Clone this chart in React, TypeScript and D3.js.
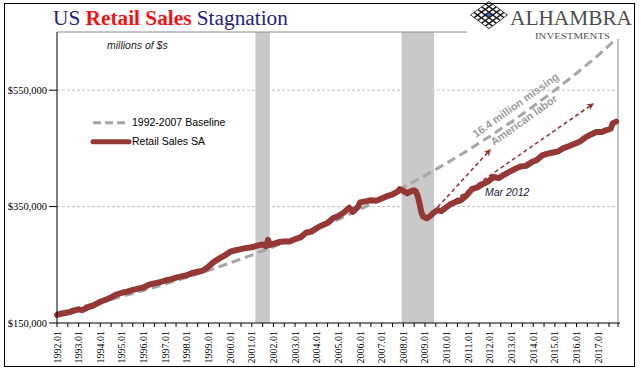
import React from "react";
import * as d3 from "d3";

// ---------- data ----------
const months: string[] = d3
  .range(1992, 2018)
  .flatMap((yr) => d3.range(1, 13).map((m) => `${yr}.${String(m).padStart(2, "0")}`));
const yearLabels = months.filter((m) => m.endsWith(".01"));
const tickMonths = months.filter((_, i) => i % 6 === 0);

// Retail Sales SA, $ thousands of millions
const retailDates = [
  "1992.01", "1992.04", "1992.07", "1992.10", "1993.01", "1993.03", "1993.06", "1993.09",
  "1994.01", "1994.04", "1994.07", "1994.10", "1995.01", "1995.04", "1995.07", "1995.10",
  "1996.01", "1996.04", "1996.07", "1996.10", "1997.01", "1997.04", "1997.07", "1997.10",
  "1998.01", "1998.04", "1998.07", "1998.10", "1999.01", "1999.04", "1999.07", "1999.10",
  "2000.01", "2000.04", "2000.07", "2000.10", "2001.01", "2001.04", "2001.07", "2001.09",
  "2001.10", "2001.11", "2002.01", "2002.04", "2002.07", "2002.10", "2003.01", "2003.04",
  "2003.07", "2003.10", "2004.01", "2004.04", "2004.07", "2004.10", "2005.01", "2005.04",
  "2005.07", "2005.09", "2005.12", "2006.01", "2006.04", "2006.07", "2006.10", "2007.01",
  "2007.04", "2007.07", "2007.10", "2007.11", "2008.01", "2008.03", "2008.05", "2008.07",
  "2008.08", "2008.09", "2008.10", "2008.11", "2008.12", "2009.02", "2009.04", "2009.06",
  "2009.08", "2009.10", "2009.12", "2010.03", "2010.06", "2010.09", "2010.12", "2011.03",
  "2011.06", "2011.09", "2011.12", "2012.03", "2012.06", "2012.09", "2012.12", "2013.03",
  "2013.06", "2013.09", "2013.12", "2014.03", "2014.06", "2014.09", "2014.12", "2015.03",
  "2015.06", "2015.09", "2015.12", "2016.03", "2016.06", "2016.09", "2016.12", "2017.03",
  "2017.06", "2017.08", "2017.09", "2017.11",
];
const retailValues = [
  164, 166, 168, 171, 173.5, 172, 177, 180,
  186.5, 190, 194, 199, 202, 204, 207, 209,
  211, 216, 218, 220, 223, 225, 228, 230,
  232, 236, 238, 240, 247, 255, 261, 266,
  272.5, 275, 277, 279, 280, 283, 285, 282,
  293, 284, 286, 289, 290, 290, 294, 297,
  305, 307, 313, 318, 322, 330, 334, 340,
  348, 341, 350, 357, 359, 361, 360, 364,
  368, 371, 376, 380, 377, 373, 376, 378,
  376, 368, 355, 340, 333, 330, 334, 340,
  344, 342, 347, 354, 358, 361, 369, 380,
  383, 389, 393, 401, 399, 405, 410, 415,
  419, 420, 426, 430, 438, 441, 443, 445,
  451, 454, 458, 462, 469, 474, 478, 478,
  482, 484, 493, 496,
];

// 1992-2007 Baseline trend
const baselineDates = [
  "1992.01", "1993.01", "1994.01", "1995.01", "1996.01", "1997.01", "1998.01", "1999.01",
  "2000.01", "2001.01", "2002.01", "2003.01", "2004.01", "2005.01", "2006.01", "2007.01",
  "2008.01", "2009.01", "2010.01", "2011.01", "2012.01", "2013.01", "2014.01", "2015.01",
  "2016.01", "2017.01", "2017.12",
];
const baselineValues = [
  167.5, 176.4, 185.8, 195.6, 206, 216.9, 228.4, 240.5,
  253.3, 266.7, 280.9, 295.8, 311.5, 328, 345.4, 363.7,
  383, 403.3, 424.7, 447.2, 470.9, 495.9, 522.2, 549.9,
  579.1, 609.8, 641,
];

const recessionStarts = ["2001.03", "2007.12"];
const recessionEnds = ["2001.11", "2009.06"];

const yTickValues = [150000, 350000, 550000];
const gridValues = [350000, 550000];

// annotation arrows: [startDate, startValue, endDate, endValue]
const arrowStartDates = ["2009.08", "2009.11"];
const arrowStartValues = [349000, 347500];
const arrowEndDates = ["2012.01", "2016.10"];
const arrowEndValues = [447000, 526000];

// ---------- layout ----------
const W = 641;
const H = 375;
const L = 57;
const R = 618;
const T = 32;
const B = 323;

const RED = "#953735";
const GRAY = "#a6a6a6";
const NAVY = "#1f1f7f";

function Logo() {
  const cx = 489, cy = 15, hw = 19, hh = 14;
  const P = (s: number, t: number) => [cx - hw + hw * (s + t), cy + hh * (t - s)];
  const N = 5;
  const cells: { d: string; fill: string }[] = [];
  d3.range(N).forEach((i) =>
    d3.range(N).forEach((j) => {
      const ins = 0.16;
      const s0 = (i + ins) / N, s1 = (i + 1 - ins) / N;
      const t0 = (j + ins) / N, t1 = (j + 1 - ins) / N;
      const pts = [P(s0, t0), P(s1, t0), P(s1, t1), P(s0, t1)];
      cells.push({
        d: "M" + pts.map((p) => p.join(",")).join("L") + "Z",
        fill: i === 2 && j === 2 ? "#3b6fc6" : "#ffffff",
      });
    })
  );
  const outer = [P(0, 0), P(1, 0), P(1, 1), P(0, 1)];
  return (
    <g>
      <path d={"M" + outer.map((p) => p.join(",")).join("L") + "Z"} fill="#1a1a1a" />
      {cells.map((c, k) => (
        <path key={k} d={c.d} fill={c.fill} />
      ))}
      <text x={510} y={25} fontFamily="'Liberation Serif', serif" fontSize={22} fill="#4d4d4d"
        textLength={122} lengthAdjust="spacingAndGlyphs">ALHAMBRA</text>
      <text x={535} y={38.5} fontFamily="'Liberation Serif', serif" fontSize={9} fill="#4d4d4d"
        textLength={75} lengthAdjust="spacingAndGlyphs">INVESTMENTS</text>
    </g>
  );
}

export default function App() {
  const x = d3.scalePoint<string>().domain(months).range([L, R]);
  const y = d3.scaleLinear().domain([150000, 650000]).range([B, T]);
  const line = d3
    .line<[string, number]>()
    .x((d) => x(d[0]) as number)
    .y((d) => y(d[1]));

  const retail: [string, number][] = retailDates.map((d, i) => [d, retailValues[i] * 1000]);
  const baseline: [string, number][] = baselineDates.map((d, i) => [d, baselineValues[i] * 1000]);

  const fmt = (v: number) => "$" + d3.format(",")(v);

  return (
    <svg width={W} height={H} style={{ position: "absolute", left: 0, top: 0, display: "block" }}>
      <defs>
        <marker id="ah" viewBox="0 0 10 10" refX="8" refY="5" markerWidth="7" markerHeight="7"
          orient="auto" markerUnits="userSpaceOnUse">
          <path d="M0,0 L10,5 L0,10 L3,5 Z" fill={RED} />
        </marker>
      </defs>
      <rect x={0} y={0} width={W} height={H} fill="#fff" />

      {/* gridlines */}
      {gridValues.map((v) => (
        <line key={v} x1={L} x2={R} y1={y(v)} y2={y(v)} stroke="#bfbfbf" strokeWidth={1}
          strokeDasharray="3,2" />
      ))}

      {/* recessions */}
      {recessionStarts.map((s, i) => (
        <rect key={s} x={x(s)} y={T} width={(x(recessionEnds[i]) as number) - (x(s) as number)}
          height={B - T} fill="#c9c9c9" />
      ))}

      {/* plot frame top/right */}
      <line x1={L} x2={R} y1={T} y2={T} stroke="#8c8c8c" strokeWidth={1} />
      <line x1={R} x2={R} y1={T} y2={B} stroke="#8c8c8c" strokeWidth={1} />

      {/* baseline */}
      <path d={line(baseline) ?? ""} fill="none" stroke={GRAY} strokeWidth={3}
        strokeDasharray="9,5" />

      {/* retail */}
      <path d={line(retail) ?? ""} fill="none" stroke={RED} strokeWidth={6}
        strokeLinejoin="round" strokeLinecap="round" />

      {/* arrows */}
      {arrowStartDates.map((s, i) => (
        <line key={s} x1={x(s)} y1={y(arrowStartValues[i])} x2={x(arrowEndDates[i])}
          y2={y(arrowEndValues[i])} stroke={RED} strokeWidth={1.6} strokeDasharray="4,3"
          markerEnd="url(#ah)" />
      ))}

      {/* axes */}
      <line x1={L} x2={L} y1={T} y2={B} stroke="#000" strokeWidth={1} />
      <line x1={L} x2={R + 2} y1={B} y2={B} stroke="#000" strokeWidth={1} />
      {yTickValues.map((v) => (
        <g key={v}>
          <line x1={L - 8} x2={L} y1={y(v)} y2={y(v)} stroke="#000" />
          <text x={47} y={y(v)} dy="0.35em" textAnchor="end" fontFamily="'Liberation Serif', serif"
            fontSize={10.5} fill="#000">{fmt(v)}</text>
        </g>
      ))}
      {tickMonths.map((m) => (
        <line key={m} x1={x(m)} x2={x(m)} y1={B} y2={B + 4} stroke="#000" />
      ))}
      <line x1={R} x2={R} y1={B} y2={B + 4} stroke="#000" />
      {yearLabels.map((m) => (
        <text key={m} transform={`translate(${x(m)},331) rotate(-90)`} textAnchor="end" dy="0.35em"
          fontFamily="'Liberation Serif', serif" fontSize={10} fill="#000">{m}</text>
      ))}

      {/* labels */}
      <text x={107} y={48.5} fontFamily="'Liberation Sans', sans-serif" fontStyle="italic"
        fontSize={10.5} fill="#222">millions of $s</text>
      <text x={485} y={196} fontFamily="'Liberation Sans', sans-serif" fontStyle="italic"
        fontSize={10.5} fill="#1a1a3a">Mar 2012</text>
      <g fontFamily="'Liberation Sans', sans-serif" fontWeight="bold" fontSize={10.8} fill="#9c9c9c">
        <text transform="translate(476,138) rotate(-35.5)">16.4 million missing</text>
        <text transform="translate(494,146) rotate(-35.5)">American labor</text>
      </g>

      {/* legend */}
      <line x1={93} x2={127} y1={122.7} y2={122.7} stroke={GRAY} strokeWidth={3} strokeDasharray="8,4" />
      <text x={132} y={122.7} dy="0.35em" fontFamily="'Liberation Sans', sans-serif" fontSize={10.5}
        fill="#000">1992-2007 Baseline</text>
      <line x1={93} x2={129} y1={141.7} y2={141.7} stroke={RED} strokeWidth={5} strokeLinecap="round" />
      <text x={132} y={141.7} dy="0.35em" fontFamily="'Liberation Sans', sans-serif" fontSize={10.5}
        fill="#000">Retail Sales SA</text>

      {/* logo area */}
      <rect x={467} y={4} width={167} height={35} fill="#fff" />
      <Logo />

      {/* title */}
      <text x={53} y={25} fontFamily="'Liberation Serif', serif" fontSize={21.3}>
        <tspan fill={NAVY}>US </tspan>
        <tspan fill="#f01414" fontWeight="bold">Retail Sales</tspan>
        <tspan fill={NAVY}> Stagnation</tspan>
      </text>

      {/* outer frame */}
      <rect x={4.5} y={3.5} width={630} height={363} fill="none" stroke="#000" strokeWidth={1} />
    </svg>
  );
}
